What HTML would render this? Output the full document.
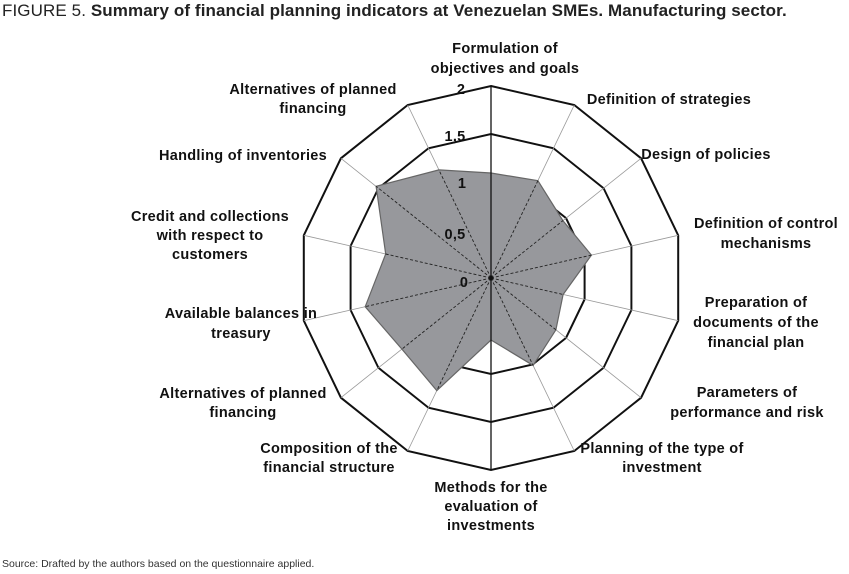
<!DOCTYPE html>
<html><head><meta charset="utf-8"><style>
body{margin:0;background:#fff;width:849px;height:574px;overflow:hidden;position:relative;font-family:"Liberation Sans",Arial,sans-serif}
.t{position:absolute;left:2px;top:1px;font-size:17px;color:#222;white-space:nowrap;letter-spacing:0.1px}
.s{position:absolute;left:2px;top:558px;font-size:10.5px;color:#333}
svg text{font-family:"Liberation Sans",Arial,sans-serif;font-weight:bold;font-size:14.5px;letter-spacing:0.3px;fill:#111;text-anchor:middle}
</style></head><body>
<div class="t">FIGURE 5. <b>Summary of financial planning indicators at Venezuelan SMEs. Manufacturing sector.</b></div>
<svg width="849" height="574" style="position:absolute;left:0;top:0">
<defs><polygon id="r" points="0,-192 83.3,-173 150.1,-119.7 187.2,-42.7 187.2,42.7 150.1,119.7 83.3,173 0,192 -83.3,173 -150.1,119.7 -187.2,42.7 -187.2,-42.7 -150.1,-119.7 -83.3,-173"/></defs>
<g transform="translate(491,278)">
<g fill="none" stroke="#111" stroke-width="2">
<use href="#r"/>
<use href="#r" transform="scale(0.75)" stroke-width="2.6"/>
<use href="#r" transform="scale(0.5)" stroke-width="4"/>
</g>
<g stroke="#999" stroke-width="0.8">
<line x1="0" y1="0" x2="83.3" y2="-173"/><line x1="0" y1="0" x2="150.1" y2="-119.7"/><line x1="0" y1="0" x2="187.2" y2="-42.7"/><line x1="0" y1="0" x2="187.2" y2="42.7"/><line x1="0" y1="0" x2="150.1" y2="119.7"/><line x1="0" y1="0" x2="83.3" y2="173"/><line x1="0" y1="0" x2="-83.3" y2="173"/><line x1="0" y1="0" x2="-150.1" y2="119.7"/><line x1="0" y1="0" x2="-187.2" y2="42.7"/><line x1="0" y1="0" x2="-187.2" y2="-42.7"/><line x1="0" y1="0" x2="-150.1" y2="-119.7"/><line x1="0" y1="0" x2="-83.3" y2="-173"/>
</g>
<polygon points="0,-105 46.9,-97.3 71.9,-57.4 100.4,-22.9 72.1,16.5 64.9,51.8 42.1,87.4 0,62 -54.2,112.6 -89.1,71.1 -125.8,28.7 -105.3,-24 -114.9,-91.7 -52.1,-108.1" fill="#97989c" stroke="#666" stroke-width="1.2"/>
<g stroke="#222" stroke-width="0.9" stroke-dasharray="3,2">
<line x1="0" y1="0" x2="46.9" y2="-97.3"/><line x1="0" y1="0" x2="71.9" y2="-57.4"/><line x1="0" y1="0" x2="100.4" y2="-22.9"/><line x1="0" y1="0" x2="72.1" y2="16.5"/><line x1="0" y1="0" x2="64.9" y2="51.8"/><line x1="0" y1="0" x2="42.1" y2="87.4"/><line x1="0" y1="0" x2="-54.2" y2="112.6"/><line x1="0" y1="0" x2="-89.1" y2="71.1"/><line x1="0" y1="0" x2="-125.8" y2="28.7"/><line x1="0" y1="0" x2="-105.3" y2="-24"/><line x1="0" y1="0" x2="-114.9" y2="-91.7"/><line x1="0" y1="0" x2="-52.1" y2="-108.1"/>
</g>
<line x1="0" y1="-192" x2="0" y2="192" stroke="#111" stroke-width="1.3"/>
<circle r="2" fill="#111"/>
</g>
<g style="font-size:17px">
<text x="461" y="94">2</text><text x="455" y="141">1,5</text><text x="462" y="188">1</text><text x="455" y="239">0,5</text><text x="464" y="287">0</text>
</g>
<text x="505" y="53">Formulation of</text><text x="505" y="73">objectives and goals</text>
<text x="669" y="104">Definition of strategies</text>
<text x="706" y="159">Design of policies</text>
<text x="766" y="228">Definition of control</text><text x="766" y="248">mechanisms</text>
<text x="756" y="307">Preparation of</text><text x="756" y="327">documents of the</text><text x="756" y="347">financial plan</text>
<text x="747" y="397">Parameters of</text><text x="747" y="417">performance and risk</text>
<text x="662" y="453">Planning of the type of</text><text x="662" y="472">investment</text>
<text x="491" y="492">Methods for the</text><text x="491" y="511">evaluation of</text><text x="491" y="530">investments</text>
<text x="329" y="453">Composition of the</text><text x="329" y="472">financial structure</text>
<text x="243" y="398">Alternatives of planned</text><text x="243" y="417">financing</text>
<text x="241" y="318">Available balances in</text><text x="241" y="338">treasury</text>
<text x="210" y="221">Credit and collections</text><text x="210" y="240">with respect to</text><text x="210" y="259">customers</text>
<text x="243" y="160">Handling of inventories</text>
<text x="313" y="94">Alternatives of planned</text><text x="313" y="113">financing</text>
</svg>
<div class="s">Source: Drafted by the authors based on the questionnaire applied.</div>
</body></html>
